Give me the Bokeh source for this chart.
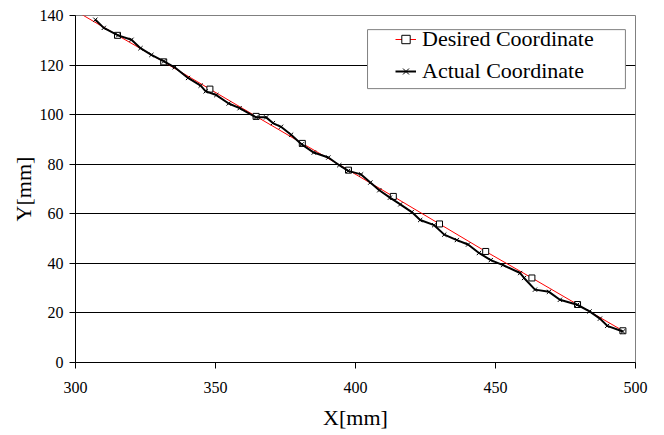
from bokeh.plotting import figure
from bokeh.models import (BoxAnnotation, Legend, LegendItem, Range1d,
                          FixedTicker)
from bokeh.embed import file_html
from bokeh.resources import INLINE

# ---- data ----
desired_x = [298.6, 315.0, 331.5, 348.0, 364.5, 381.0, 397.5, 413.5, 430.0,
             446.5, 463.0, 479.3, 495.5]
desired_y = [142.8, 132.0, 121.3, 110.3, 99.3, 88.4, 77.6, 67.0, 55.9,
             44.8, 34.1, 23.4, 12.8]

actual_x = [307.1, 310.1, 315.2, 320.0, 323.2, 327.1, 331.6, 335.4, 340.2,
            344.7, 346.5, 350.3, 354.7, 358.6, 364.5, 368.1, 370.5, 373.4,
            377.0, 380.8, 385.1, 390.3, 394.2, 397.4, 402.0, 405.3, 408.5,
            412.3, 416.0, 420.1, 423.1, 428.1, 431.7, 436.2, 440.2, 444.1,
            448.3, 452.7, 458.8, 460.2, 464.1, 469.1, 473.0, 479.2, 483.6,
            487.3, 489.9, 495.5]
actual_y = [138.3, 135.0, 132.0, 130.2, 126.8, 124.1, 121.5, 119.1, 114.8,
            111.7, 109.4, 107.9, 104.5, 102.6, 98.9, 98.9, 96.6, 95.1,
            91.9, 88.0, 84.7, 82.7, 79.6, 77.3, 75.9, 72.6, 69.5,
            66.5, 63.8, 60.7, 57.5, 55.4, 51.6, 49.4, 47.6, 44.2,
            41.3, 39.3, 36.1, 34.1, 29.4, 28.5, 25.3, 23.3, 20.6,
            17.7, 14.8, 12.5]

x_ticks = [300, 350, 400, 450, 500]
y_ticks = [0, 20, 40, 60, 80, 100, 120, 140]
series_names = ["Desired Coordinate", "Actual Coordinate"]
x_title = "X[mm]"
y_title = "Y[mm]"

FONT = "Liberation Serif"

p = figure(width=664, height=435, output_backend="svg", toolbar_location=None,
           x_range=Range1d(300, 500), y_range=Range1d(0, 140),
           min_border_left=75, min_border_right=29, min_border_top=15,
           min_border_bottom=73)
p.background_fill_color = "white"
p.border_fill_color = "white"
p.outline_line_color = "#808080"
p.outline_line_width = 1

# grid
p.xgrid.grid_line_color = None
p.ygrid.grid_line_color = "black"
p.ygrid.grid_line_width = 1
p.ygrid.ticker = FixedTicker(ticks=y_ticks)

# axes
for ax in (p.xaxis[0], p.yaxis[0]):
    ax.axis_line_color = "black"
    ax.axis_line_width = 1
    ax.major_tick_line_color = "black"
    ax.major_tick_out = 6
    ax.major_tick_in = 0
    ax.minor_tick_line_color = None
    ax.major_label_text_font = FONT
    ax.major_label_text_font_size = "16px"
    ax.major_label_text_color = "black"
    ax.axis_label_text_font = FONT
    ax.axis_label_text_font_size = "22px"
    ax.axis_label_text_font_style = "normal"
    ax.axis_label_text_color = "black"

p.xaxis[0].ticker = FixedTicker(ticks=x_ticks)
p.yaxis[0].ticker = FixedTicker(ticks=y_ticks)
p.xaxis[0].axis_label = x_title
p.yaxis[0].axis_label = y_title
p.xaxis[0].major_label_standoff = 13
p.xaxis[0].axis_label_standoff = 9
p.yaxis[0].major_label_standoff = 6
p.yaxis[0].axis_label_standoff = 1

# series
d_line = p.line(desired_x, desired_y, line_color="red", line_width=1)
d_mark = p.scatter(desired_x, desired_y, marker="square", size=6,
                   line_color="black", fill_color="white", line_width=1)
a_line = p.line(actual_x, actual_y, line_color="black", line_width=2)
a_mark = p.scatter(actual_x, actual_y, marker="x", size=6,
                   line_color="black", line_width=1)

# legend box
box = BoxAnnotation(left=404.3, right=496.4, top=134.3, bottom=110.5,
                    fill_color="white", fill_alpha=1.0,
                    line_color="#808080", line_width=1, line_alpha=1.0)
p.add_layout(box)

legend = Legend(items=[
    LegendItem(label=series_names[0], renderers=[d_line, d_mark]),
    LegendItem(label=series_names[1], renderers=[a_line, a_mark]),
], location=(320, 278))
legend.border_line_alpha = 0
legend.background_fill_alpha = 0
legend.padding = 0
legend.margin = 0
legend.spacing = 6
legend.glyph_width = 21
legend.glyph_height = 22
legend.label_height = 22
legend.label_standoff = 6
legend.label_text_font = FONT
legend.label_text_font_size = "22px"
legend.label_text_color = "black"
p.add_layout(legend)

open("out.html", "w").write(file_html(p, INLINE))
